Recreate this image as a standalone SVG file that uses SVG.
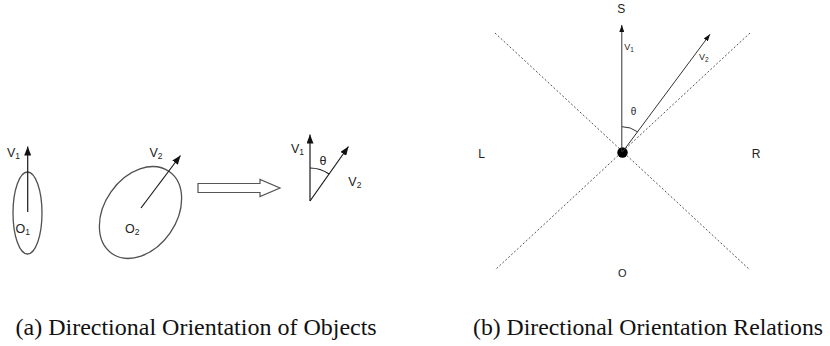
<svg xmlns="http://www.w3.org/2000/svg" width="830" height="346" viewBox="0 0 830 346">
<style>
.sans{font-family:"Liberation Sans",Arial,sans-serif;fill:#222}
.cap{font-family:"Liberation Serif","Times New Roman",serif;font-size:24px;fill:#111}
.obj{fill:none;stroke:#505050;stroke-width:1.3}
.vec{stroke:#1a1a1a;stroke-width:1.2;fill:none}
.vecs{stroke:#333;stroke-width:1;fill:none}
.dash{stroke:#555;stroke-width:1;stroke-dasharray:2 2;fill:none}
</style>
<defs>
<marker id="ah" viewBox="0 0 10 10" refX="10" refY="5" markerUnits="userSpaceOnUse" markerWidth="9" markerHeight="7" preserveAspectRatio="none" orient="auto">
<path d="M0,0 L10,5 L0,10 z" fill="#111"/>
</marker>
<marker id="ahs" viewBox="0 0 10 10" refX="10" refY="5" markerUnits="userSpaceOnUse" markerWidth="7" markerHeight="5" preserveAspectRatio="none" orient="auto">
<path d="M0,0 L10,5 L0,10 z" fill="#111"/>
</marker>
</defs>

<!-- Left panel (a) -->
<g id="object1">
<ellipse class="obj" cx="27.5" cy="213" rx="14.5" ry="41"/>
<text class="sans" font-size="12.5" x="15.5" y="233">O<tspan font-size="8.5" dy="2">1</tspan></text>
</g>
<g id="object2">
<ellipse class="obj" cx="140.5" cy="212.5" rx="50" ry="36" transform="rotate(-55 140.5 212.5)"/>
<text class="sans" font-size="12.5" x="125" y="233">O<tspan font-size="8.5" dy="2">2</tspan></text>
</g>
<g id="label-v1a">
<text class="sans" font-size="12.5" x="7" y="157">V<tspan font-size="8.5" dy="2">1</tspan></text>
</g>
<g id="label-v2a">
<text class="sans" font-size="12.5" x="149.5" y="157">V<tspan font-size="8.5" dy="2">2</tspan></text>
</g>
<g id="block-arrow">
<polygon points="198,183.5 260,183.5 260,179.5 280,188 260,196.5 260,192.5 198,192.5" fill="#fff" stroke="#555" stroke-width="1.2"/>
</g>
<g id="angle-figure">
<path class="vec" d="M329,174 A33,33 0 0 0 310,168" stroke-width="1"/>
<text class="sans" font-size="12.5" x="291" y="152.7">V<tspan font-size="8.5" dy="2">1</tspan></text>
<text class="sans" font-size="12.5" x="319.5" y="165">θ</text>
<text class="sans" font-size="12.5" x="348.3" y="186">V<tspan font-size="8.5" dy="2">2</tspan></text>
</g>

<!-- Right panel (b) -->
<g id="region-lines">
<line class="dash" x1="495" y1="33" x2="750" y2="270"/>
<line class="dash" x1="750" y1="33" x2="495" y2="270"/>
</g>
<g id="origin">
<circle cx="622.5" cy="152.5" r="5.2" fill="#000"/>
</g>
<g id="label-S"><text class="sans" font-size="12" x="621.2" y="12.7" text-anchor="middle">S</text></g>
<g id="label-L"><text class="sans" font-size="12" x="481.7" y="158.3" text-anchor="middle">L</text></g>
<g id="label-R"><text class="sans" font-size="12" x="756" y="158.3" text-anchor="middle">R</text></g>
<g id="label-O"><text class="sans" font-size="11" x="622.3" y="276.7" text-anchor="middle">O</text></g>
<g id="vector-labels-b">
<text class="sans" font-size="9" x="624.3" y="50">V<tspan font-size="6.5" dy="1.5">1</tspan></text>
<text class="sans" font-size="9" x="699" y="60">V<tspan font-size="6.5" dy="1.5">2</tspan></text>
<text class="sans" font-size="10" x="630.8" y="115">θ</text>
<path class="vecs" d="M637.5,131.8 A26,26 0 0 0 622,126.7"/>
</g>

<g id="connectors">
<line class="vec" x1="27.7" y1="212" x2="27.7" y2="146.5" marker-end="url(#ah)"/>
<line class="vec" x1="141" y1="208" x2="180.5" y2="155.5" marker-end="url(#ah)"/>
<line class="vec" x1="310" y1="201" x2="310" y2="134.5" marker-end="url(#ah)"/>
<line class="vec" x1="310" y1="201" x2="348.5" y2="146.5" marker-end="url(#ah)"/>
<line class="vecs" x1="621.8" y1="152" x2="621.8" y2="25" marker-end="url(#ahs)"/>
<line class="vecs" x1="622.5" y1="152" x2="710" y2="34.3" marker-end="url(#ahs)"/>
</g>

<!-- Captions -->
<text class="cap" x="15.5" y="335">(a) Directional Orientation of Objects</text>
<text class="cap" x="473" y="335" textLength="350" lengthAdjust="spacingAndGlyphs">(b) Directional Orientation Relations</text>
</svg>
